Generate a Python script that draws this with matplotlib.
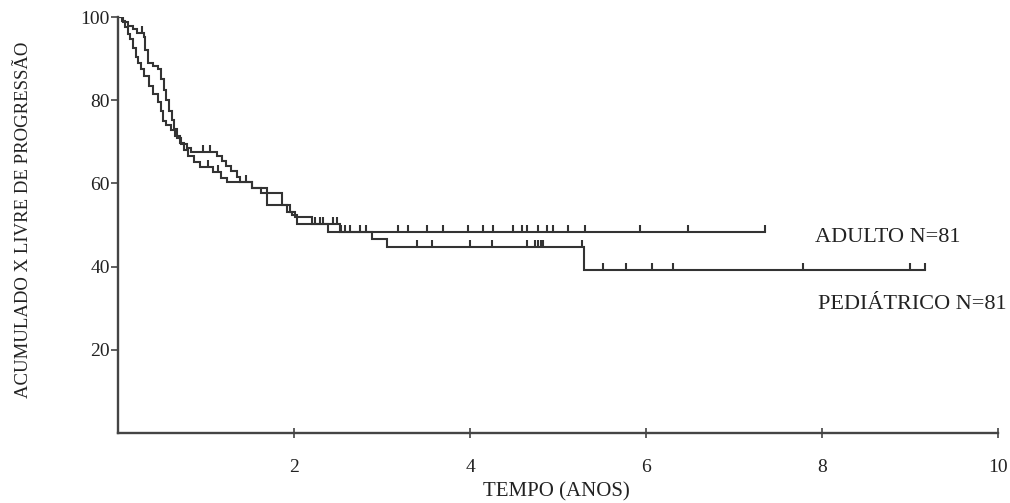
import numpy as np
import matplotlib
matplotlib.use("Agg")
import matplotlib.pyplot as plt

# ---------------- data ----------------
# ADULTO: event times (years) and cumulative progression-free (%) after each event
adult_times = [0.06, 0.11, 0.17, 0.22, 0.29, 0.31, 0.34, 0.40, 0.46, 0.49, 0.52,
               0.55, 0.58, 0.61, 0.64, 0.67, 0.72, 0.78, 0.83, 1.13, 1.18, 1.23,
               1.28, 1.35, 1.39, 1.52, 1.69, 1.86, 1.96, 2.01, 2.20, 2.52]
adult_surv = [98.8, 97.8, 97.0, 96.2, 95.2, 92.0, 88.9, 88.3, 87.6, 85.0, 82.5,
              80.0, 77.5, 75.2, 73.0, 71.0, 69.4, 68.4, 67.6, 66.6, 65.4, 64.2,
              63.0, 61.6, 60.3, 58.9, 57.7, 54.8, 53.2, 52.0, 50.2, 48.3]
adult_end = 7.35
adult_censor = [0.27, 0.97, 1.05, 1.46, 2.24, 2.30, 2.33, 2.44, 2.49, 2.53, 2.58,
                2.64, 2.75, 2.82, 3.18, 3.30, 3.51, 3.69, 3.98, 4.15, 4.26, 4.49,
                4.59, 4.65, 4.77, 4.88, 4.94, 5.11, 5.31, 5.93, 6.48, 7.35]

# PEDIÁTRICO
ped_times = [0.04, 0.08, 0.11, 0.14, 0.17, 0.20, 0.23, 0.26, 0.30, 0.35, 0.40,
             0.45, 0.49, 0.51, 0.55, 0.60, 0.65, 0.70, 0.75, 0.80, 0.86, 0.93,
             1.08, 1.17, 1.24, 1.52, 1.63, 1.69, 1.92, 1.98, 2.03, 2.39, 2.89,
             3.06, 5.29]
ped_surv = [99.0, 97.6, 96.0, 94.8, 92.5, 90.5, 89.0, 87.5, 85.8, 83.5, 81.5,
            79.5, 77.5, 75.0, 74.0, 72.8, 71.5, 69.6, 68.0, 66.5, 65.2, 64.0,
            62.8, 61.4, 60.4, 58.9, 57.7, 54.8, 53.2, 52.4, 50.2, 48.3, 46.7,
            44.8, 39.2]
ped_end = 9.17
ped_censor = [1.02, 1.14, 3.40, 3.57, 4.00, 4.25, 4.65, 4.74, 4.77, 4.81, 4.83,
              5.27, 5.51, 5.77, 6.07, 6.31, 7.78, 9.00, 9.17]

x_ticks = [2, 4, 6, 8, 10]
x_ticklabels = ["2", "4", "6", "8", "10"]
y_ticks = [20, 40, 60, 80, 100]
y_ticklabels = ["20", "40", "60", "80", "100"]

series_labels = ["ADULTO N=81", "PEDIÁTRICO N=81"]
x_label = "TEMPO (ANOS)"
y_label = "ACUMULADO X LIVRE DE PROGRESSÃO"

# ---------------- drawing ----------------
FONT = "Liberation Serif"
INK = "#333333"

fig = plt.figure(figsize=(10.10, 5.03), dpi=100)
ax = fig.add_axes([118 / 1010, 1 - 433 / 503, 880 / 1010, (433 - 17) / 503])


def draw_km(times, surv, end, censor):
    t = np.r_[0.0, times, end]
    s = np.r_[100.0, surv, surv[-1]]
    ax.step(t, s, where="post", color=INK, lw=1.5, solid_joinstyle="miter")
    times_arr = np.asarray(times)
    s_all = np.r_[100.0, surv]
    idx = np.searchsorted(times_arr, np.asarray(censor), side="right")
    ax.plot(censor, s_all[idx], linestyle="none", marker=2, markersize=5,
            markeredgewidth=1.5, color=INK)


draw_km(adult_times, adult_surv, adult_end, adult_censor)
draw_km(ped_times, ped_surv, ped_end, ped_censor)

ax.set_xlim(0, 10)
ax.set_ylim(0, 100)
for side in ("top", "right"):
    ax.spines[side].set_visible(False)
for side in ("left", "bottom"):
    ax.spines[side].set_color("#444444")
    ax.spines[side].set_linewidth(1.7)
ax.spines["left"].set_bounds(0, 100)

ax.set_xticks(x_ticks)
ax.set_xticklabels(x_ticklabels, fontfamily=FONT, fontsize=14)
ax.set_yticks(y_ticks)
ax.set_yticklabels(y_ticklabels, fontfamily=FONT, fontsize=14)
ax.tick_params(axis="x", direction="inout", length=7, width=1.2, color="#444444",
               pad=15, labelcolor="#222222")
ax.tick_params(axis="y", direction="out", length=5, width=1.2, color="#444444",
               pad=1, labelcolor="#222222")

ax.text(7.92, 47.1, series_labels[0], fontfamily=FONT, fontsize=16,
        ha="left", va="center", color="#222222")
ax.text(7.95, 30.8, series_labels[1], fontfamily=FONT, fontsize=16,
        ha="left", va="center", color="#222222")

fig.text(556 / 1010, 1 - 492 / 503, x_label, fontfamily=FONT, fontsize=15,
         ha="center", va="center", color="#222222")
fig.text(24 / 1010, 1 - 220 / 503, y_label, fontfamily=FONT, fontsize=13.5,
         rotation=90, ha="center", va="center", color="#222222")

fig.savefig("out.png", dpi=100)
